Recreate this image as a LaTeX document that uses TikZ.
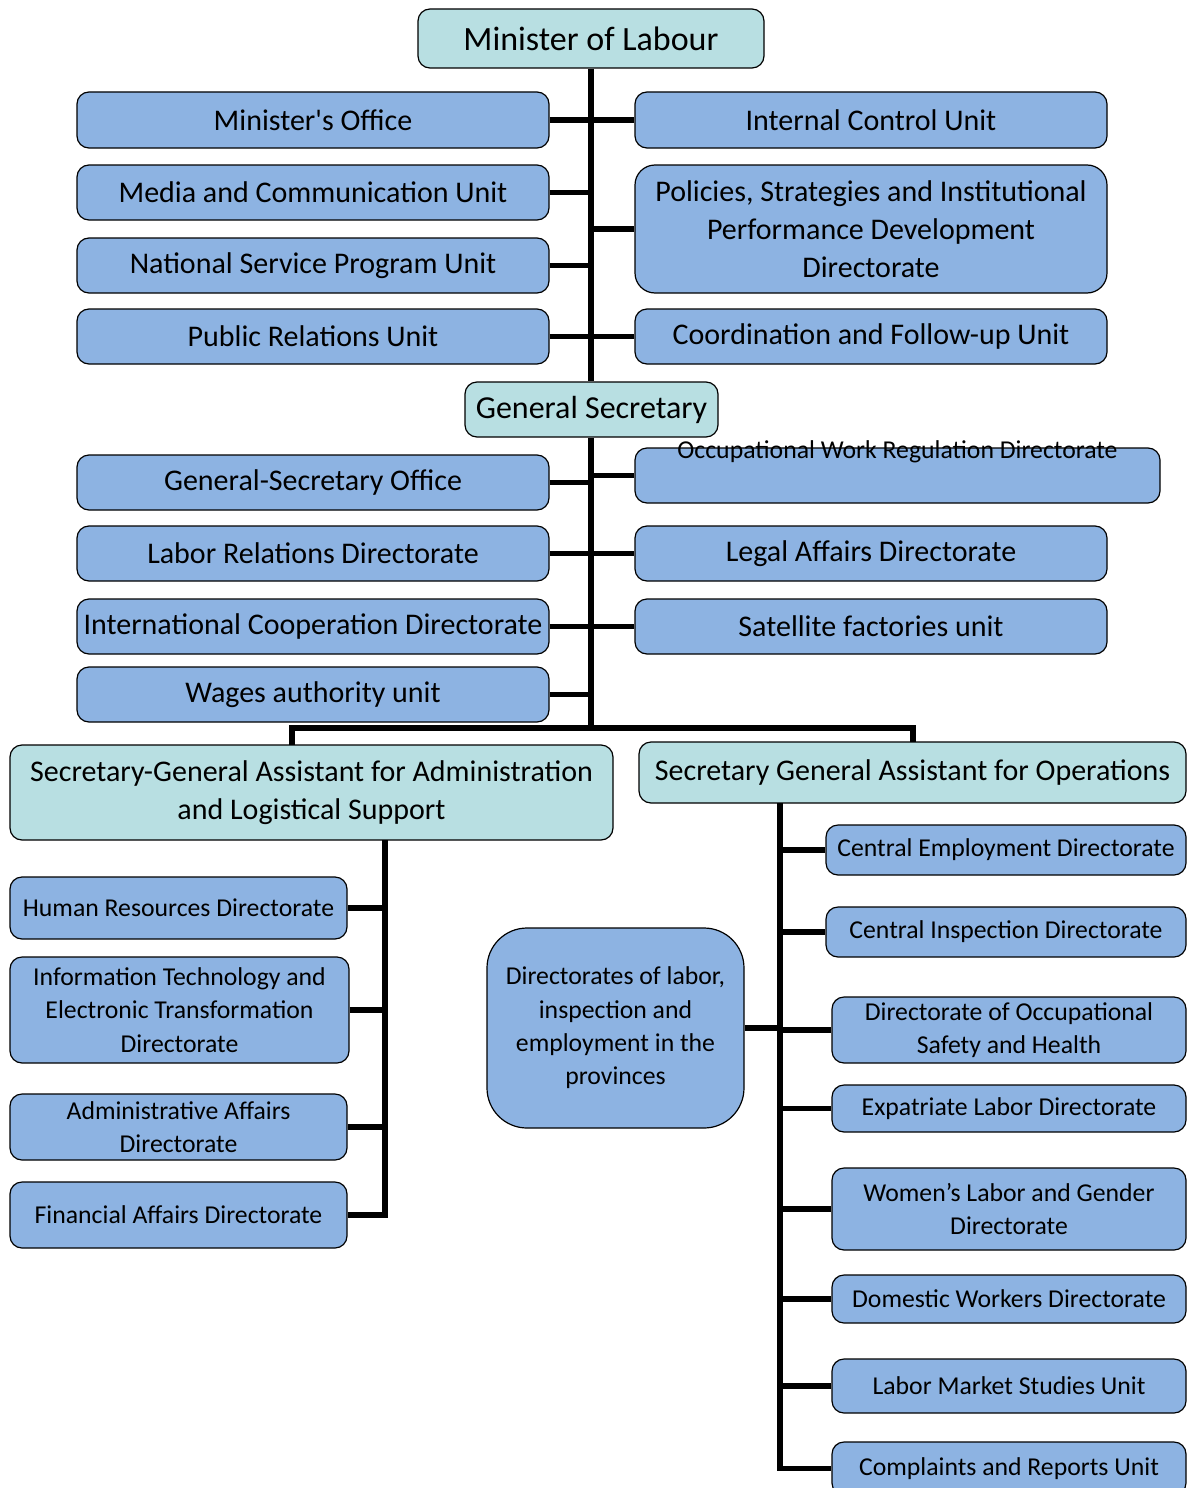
\documentclass[tikz,border=0pt]{standalone}
\usepackage{fontspec}
\setmainfont{Carlito}[Ligatures=TeXOff]
\definecolor{tealbox}{RGB}{184,223,226}
\definecolor{bluebox}{RGB}{141,179,226}
\newcommand\ob[7][]{\node[#1, minimum width={(#4-#2)*0.75pt}, minimum height={(#5-#3)*0.75pt}] (#6) at ({(#2+#4)/2},{(#3+#5)/2}) {#7};}
\begin{document}
\begin{tikzpicture}[x=0.75pt,y=-0.75pt,
  box/.style={draw=black, line width=0.9pt, rounded corners=9pt, inner sep=0pt, align=center, text=black},
  head/.style={box, fill=tealbox},
  unit/.style={box, fill=bluebox},
  fbig/.style={font=\fontsize{22.5pt}{28.5pt}\selectfont},
  fsmall/.style={font=\fontsize{19.3pt}{25pt}\selectfont},
  conn/.style={draw=black, line width=3.8pt}]
\useasboundingbox (0,0) rectangle (1187,1488);
% top level
\ob[head, font=\fontsize{25.5pt}{30pt}\selectfont]{418}{9}{764}{68}{min}{Minister of Labour}
\ob[unit, fbig]{77}{92}{549}{148}{mo}{Minister's Office}
\ob[unit, fbig]{77}{165}{549}{220}{mc}{Media and Communication Unit}
\ob[unit, fbig]{77}{238}{549}{293}{ns}{National Service Program Unit}
\ob[unit, fbig]{77}{309}{549}{364}{pr}{Public Relations Unit}
\ob[unit, fbig]{635}{92}{1107}{148}{ic}{Internal Control Unit}
\ob[unit, fbig, rounded corners=15pt]{635}{165}{1107}{293}{ps}{Policies, Strategies and Institutional\\Performance Development\\Directorate}
\ob[unit, fbig]{635}{309}{1107}{364}{cf}{Coordination and Follow-up Unit}
% general secretary
\ob[head, font=\fontsize{24pt}{29pt}\selectfont]{465}{382}{718}{437}{gs}{General Secretary}
\ob[unit, fbig]{77}{455}{549}{510}{gso}{General-Secretary Office}
\ob[unit, fbig]{77}{526}{549}{581}{lr}{Labor Relations Directorate}
\ob[unit, fbig]{77}{599}{549}{654}{icd}{International Cooperation Directorate}
\ob[unit, fbig]{77}{667}{549}{722}{wa}{Wages authority unit}
\ob[unit, label={[anchor=center, yshift=-3pt, font=\fontsize{19.3pt}{25pt}\selectfont]north:Occupational Work Regulation Directorate}]{635}{448}{1160}{503}{owr}{}
\ob[unit, fbig]{635}{526}{1107}{581}{la}{Legal Affairs Directorate}
\ob[unit, fbig]{635}{599}{1107}{654}{sf}{Satellite factories unit}
% assistants
\ob[head, fbig]{10}{745}{613}{840}{sga}{Secretary-General Assistant for Administration\\and Logistical Support}
\ob[head, fbig]{639}{742}{1186}{803}{sgo}{Secretary General Assistant for Operations}
% administration side
\ob[unit, fsmall]{10}{877}{347}{939}{hr}{Human Resources Directorate}
\ob[unit, fsmall]{10}{957}{349}{1063}{it}{Information Technology and\\Electronic Transformation\\Directorate}
\ob[unit, fsmall]{10}{1094}{347}{1160}{aa}{Administrative Affairs\\Directorate}
\ob[unit, fsmall]{10}{1182}{347}{1248}{fa}{Financial Affairs Directorate}
% operations side
\ob[unit, fsmall]{826}{825}{1186}{875}{ce}{Central Employment Directorate}
\ob[unit, fsmall]{826}{907}{1186}{957}{ci}{Central Inspection Directorate}
\ob[unit, fsmall]{832}{997}{1186}{1063}{os}{Directorate of Occupational\\Safety and Health}
\ob[unit, fsmall, rounded corners=30pt]{487}{928}{744}{1128}{dl}{Directorates of labor,\\inspection and\\employment in the\\provinces}
\ob[unit, fsmall]{832}{1085}{1186}{1132}{ex}{Expatriate Labor Directorate}
\ob[unit, fsmall]{832}{1168}{1186}{1250}{wl}{Women’s Labor and Gender\\Directorate}
\ob[unit, fsmall]{832}{1275}{1186}{1323}{dw}{Domestic Workers Directorate}
\ob[unit, fsmall]{832}{1359}{1186}{1413}{lm}{Labor Market Studies Unit}
\ob[unit, fsmall]{832}{1442}{1186}{1495}{cr}{Complaints and Reports Unit}
% connectors: minister
\draw[conn] (min.south) -- (min.south |- gs.north);
\foreach \n in {mo,mc,ns,pr} \draw[conn] (\n.east) -- (\n.east -| min.south);
\foreach \n in {ic,ps,cf} \draw[conn] (\n.west) -- (\n.west -| min.south);
% connectors: general secretary
\coordinate (split) at (591,728);
\draw[conn] (gs.south -| split) -- (split);
\foreach \n in {gso,lr,icd,wa} \draw[conn] (\n.east) -- (\n.east -| split);
\foreach \n in {owr,la,sf} \draw[conn] (\n.west) -- (\n.west -| split);
\coordinate (aIn) at (292,745);
\coordinate (oIn) at (913,742);
\draw[conn] (aIn) |- (split) -| (oIn);
% administration stem
\coordinate (aOut) at (385,840);
\draw[conn] (aOut) |- (fa.east);
\foreach \n in {hr,it,aa} \draw[conn] (\n.east) -- (\n.east -| aOut);
% operations stem
\coordinate (oOut) at (780,803);
\draw[conn] (oOut) |- (cr.west);
\foreach \n in {ce,ci,os,ex,wl,dw,lm} \draw[conn] (\n.west) -- (\n.west -| oOut);
\draw[conn] (dl.east) -- (dl.east -| oOut);
\end{tikzpicture}
\end{document}
